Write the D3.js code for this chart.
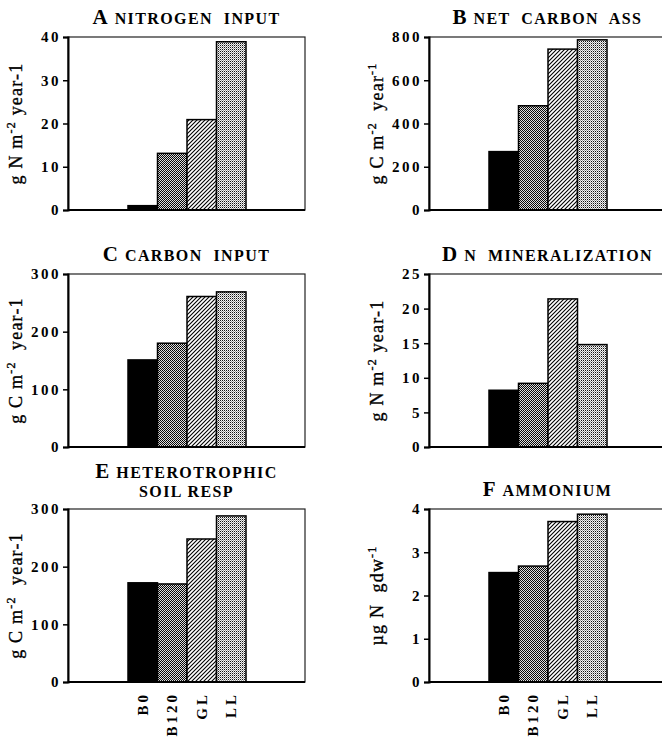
<!DOCTYPE html>
<html>
<head>
<meta charset="utf-8">
<script src="https://cdn.jsdelivr.net/npm/d3@7.9.0/dist/d3.min.js"></script>
<style>
  body { margin: 0; background: #fff; }
  svg { display: block; }
  svg text { font-family: "Liberation Serif", "Times New Roman", serif !important; white-space: pre; }
</style>
</head>
<body>
<div id="chart"></div>
<script>
// treatments on the x axis
const categories = ['B0', 'B120', 'GL', 'LL'];

// values per panel
const nitrogenInput = [1, 13.1, 20.9, 38.9];
const netCarbonAss = [270, 482, 744, 787];
const carbonInput = [151, 180, 261, 269];
const nMineralization = [8.2, 9.2, 21.4, 14.8];
const heteroResp = [172, 170, 248, 288];
const ammonium = [2.53, 2.68, 3.71, 3.88];

const ticksA = [0, 10, 20, 30, 40];
const ticksB = [0, 200, 400, 600, 800];
const ticksC = [0, 100, 200, 300];
const ticksD = [0, 5, 10, 15, 20, 25];
const ticksE = [0, 100, 200, 300];
const ticksF = [0, 1, 2, 3, 4];

const panels = [
  { letter: 'A', title: ['NITROGEN  INPUT'], values: nitrogenInput, ticks: ticksA, ylab: ['g N m', '-2', ' year-1', ''], col: 0, row: 0 },
  { letter: 'B', title: ['NET  CARBON  ASS'], values: netCarbonAss, ticks: ticksB, ylab: ['g C m', '-2', '  year', '-1'], col: 1, row: 0 },
  { letter: 'C', title: ['CARBON  INPUT'], values: carbonInput, ticks: ticksC, ylab: ['g C m', '-2', '  year-1', ''], col: 0, row: 1 },
  { letter: 'D', title: ['N  MINERALIZATION'], values: nMineralization, ticks: ticksD, ylab: ['g N m', '-2', ' year-1', ''], col: 1, row: 1 },
  { letter: 'E', title: ['HETEROTROPHIC', 'SOIL RESP'], values: heteroResp, ticks: ticksE, ylab: ['g C m', '-2', '  year-1', ''], col: 0, row: 2 },
  { letter: 'F', title: ['AMMONIUM'], values: ammonium, ticks: ticksF, ylab: ['\u00b5g N  gdw', '-1', '', ''], col: 1, row: 2 }
];

const W = 662, H = 738;
const colX = [68, 429];
const rowY = [37, 274, 509];
const plotW = 237, plotH = 173;

const svg = d3.select('#chart').append('svg').attr('width', W).attr('height', H);

// fill patterns
const defs = svg.append('defs');
const dark = defs.append('pattern').attr('id', 'dark').attr('patternUnits', 'userSpaceOnUse')
  .attr('width', 2).attr('height', 2);
dark.append('rect').attr('width', 2).attr('height', 2).attr('fill', '#ddd');
dark.append('rect').attr('width', 1).attr('height', 1).attr('fill', '#000');
dark.append('rect').attr('x', 1).attr('y', 1).attr('width', 1).attr('height', 1).attr('fill', '#111');

const hatch = defs.append('pattern').attr('id', 'hatch').attr('patternUnits', 'userSpaceOnUse')
  .attr('width', 4).attr('height', 4);
hatch.append('rect').attr('width', 4).attr('height', 4).attr('fill', '#fff');
hatch.append('path').attr('d', 'M-1,1 l2,-2 M0,4 l4,-4 M3,5 l2,-2')
  .attr('stroke', '#000').attr('stroke-width', 1.1);

const light = defs.append('pattern').attr('id', 'light').attr('patternUnits', 'userSpaceOnUse')
  .attr('width', 2).attr('height', 2);
light.append('rect').attr('width', 2).attr('height', 2).attr('fill', '#f4f4f4');
light.append('rect').attr('width', 1).attr('height', 1).attr('fill', '#111');
light.append('rect').attr('x', 1).attr('y', 1).attr('width', 1).attr('height', 1).attr('fill', '#999');

const fills = ['#000', 'url(#dark)', 'url(#hatch)', 'url(#light)'];

panels.forEach(p => {
  const x0 = colX[p.col], y0 = rowY[p.row];
  const g = svg.append('g').attr('transform', `translate(${x0},${y0})`);

  const y = d3.scaleLinear()
    .domain([0, d3.max(p.ticks)])
    .range([plotH, 0]);

  const x = d3.scaleBand()
    .domain(categories)
    .range([60, 178])
    .padding(0);

  // frame
  g.append('rect')
    .attr('width', plotW).attr('height', plotH)
    .attr('fill', 'none').attr('stroke', '#222').attr('stroke-width', 1.2);

  // bars
  g.selectAll('rect.bar')
    .data(p.values)
    .join('rect')
    .attr('class', 'bar')
    .attr('x', (d, i) => x(categories[i]))
    .attr('y', d => y(d))
    .attr('width', x.bandwidth())
    .attr('height', d => plotH - y(d))
    .attr('fill', (d, i) => fills[i])
    .attr('stroke', '#000')
    .attr('stroke-width', 1.5);

  // axes
  const yAxis = g.append('g')
    .call(d3.axisLeft(y).tickValues(p.ticks).tickSize(5).tickPadding(2).tickFormat(d3.format('d')));
  yAxis.select('.domain').attr('stroke-width', 2);
  yAxis.selectAll('.tick line').attr('stroke-width', 1.5);
  yAxis.selectAll('.tick text')
    .attr('font-size', 15).attr('font-weight', 'bold')
    .attr('letter-spacing', 2.5).attr('fill', '#000');

  g.append('line')
    .attr('x1', 0).attr('x2', plotW)
    .attr('y1', plotH).attr('y2', plotH)
    .attr('stroke', '#000').attr('stroke-width', 2);

  // title
  const cx = plotW / 2;
  const lines = p.title;
  lines.forEach((t, i) => {
    const baseY = lines.length === 1 ? -13 : (i === 0 ? -31 : -12);
    const tt = g.append('text')
      .attr('x', cx).attr('y', baseY)
      .attr('text-anchor', 'middle')
      .attr('font-weight', 'bold')
      .attr('fill', '#000');
    if (i === 0) {
      tt.append('tspan').attr('font-size', 21).text(p.letter);
    }
    tt.append('tspan').attr('dx', i === 0 ? 7 : 0)
      .attr('font-size', 16).attr('letter-spacing', 1.4).text(t);
  });

  // y label (slight stroke to match the heavy print)
  const yl = g.append('text')
    .attr('transform', `translate(-46,${plotH / 2}) rotate(-90)`)
    .attr('text-anchor', 'middle')
    .attr('font-size', 18)
    .attr('letter-spacing', 1.2)
    .attr('fill', '#000')
    .attr('stroke', '#000')
    .attr('stroke-width', 0.35);
  yl.append('tspan').text(p.ylab[0]);
  if (p.ylab[1]) yl.append('tspan').attr('font-size', 12).attr('dy', -7).text(p.ylab[1]);
  if (p.ylab[2]) yl.append('tspan').attr('dy', p.ylab[1] ? 7 : 0).text(p.ylab[2]);
  if (p.ylab[3]) yl.append('tspan').attr('font-size', 12).attr('dy', -7).text(p.ylab[3]);

  // category labels on bottom row
  if (p.row === 2) {
    g.selectAll('text.cat')
      .data(categories)
      .join('text')
      .attr('class', 'cat')
      .attr('transform', d => `translate(${x(d) + x.bandwidth() / 2 + 5},${plotH + 10}) rotate(-90)`)
      .attr('text-anchor', 'end')
      .attr('font-size', 15)
      .attr('font-weight', 'bold')
      .attr('letter-spacing', 3)
      .attr('fill', '#000')
      .text(d => d);
  }
});
</script>
</body>
</html>
